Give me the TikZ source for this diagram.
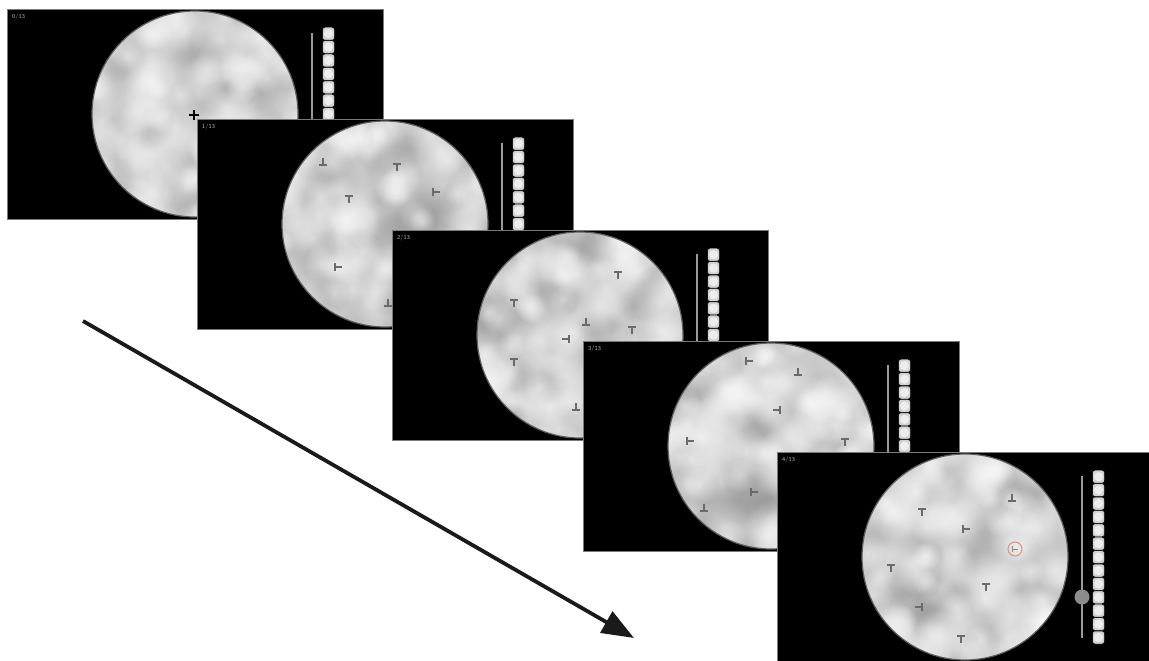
\documentclass[tikz,border=0pt]{standalone}
\usetikzlibrary{arrows.meta,fadings}
\tikzfading[name=blobfade, inner color=transparent!0, outer color=transparent!100]
\definecolor{cloudbase}{HTML}{CACACA}
\definecolor{clouddark}{HTML}{959595}
\definecolor{rimcol}{HTML}{5E5E5E}
\definecolor{markcol}{HTML}{6A6A6A}
\definecolor{panelborder}{HTML}{7A7A7A}
\definecolor{slidercol}{HTML}{9A9A9A}
\definecolor{knobcol}{HTML}{8C8C8C}
\definecolor{boxcol}{HTML}{D2D2D2}
\definecolor{dotcol}{HTML}{EDEDED}
\definecolor{labelcol}{HTML}{BDBDBD}
\definecolor{targetcol}{HTML}{D99378}
\definecolor{arrowcol}{HTML}{1A1A1A}
\tikzset{
  panelfill/.style={fill=black, draw=panelborder, line width=0.8pt},
  tm/.style={draw=markcol, line width=1.6pt},
  slider/.style={draw=slidercol, line width=2pt},
  boxstyle/.style={fill=boxcol, draw=black, line width=0.5pt, rounded corners=2.5pt},
  panellabel/.style={text=labelcol, font=\sffamily\fontsize{6}{6}\selectfont, anchor=west, inner sep=0pt},
  timearrow/.style={draw=arrowcol, line width=3.8pt, -{Triangle[length=32pt,width=24pt]}},
}
% T-shaped marks in pixel coordinates (y down)
\newcommand\mT[2]{\draw[tm] (#1-4,#2-3) -- (#1+4,#2-3) (#1,#2-3) -- (#1,#2+4);}
\newcommand\mB[2]{\draw[tm] (#1-4,#2+3) -- (#1+4,#2+3) (#1,#2+3) -- (#1,#2-4);}
\newcommand\mL[2]{\draw[tm] (#1-3,#2-4) -- (#1-3,#2+4) (#1-3,#2) -- (#1+4,#2);}
\newcommand\mR[2]{\draw[tm] (#1+3,#2-4) -- (#1+3,#2+4) (#1+3,#2) -- (#1-4,#2);}
\newcommand\searchpanel[3]{%
\begin{scope}[shift={(#1,#2)}]
  \path[panelfill] (0,0) rectangle (376,210);
  \begin{scope}
    \clip (188,105) circle (103);
    \fill[cloudbase] (84,1) rectangle (292,209);
    \pgfmathsetseed{#3+11}
    \foreach \i in {1,...,70}{
      \pgfmathsetmacro\bx{188+rand*108}
      \pgfmathsetmacro\by{105+rand*108}
      \pgfmathsetmacro\br{12+rnd*20}
      \fill[clouddark, opacity=0.38, path fading=blobfade] (\bx,\by) circle (\br);
    }
    \foreach \i in {1,...,110}{
      \pgfmathsetmacro\bx{188+rand*108}
      \pgfmathsetmacro\by{105+rand*108}
      \pgfmathsetmacro\br{11+rnd*20}
      \fill[white, opacity=0.42, path fading=blobfade] (\bx,\by) circle (\br);
    }
  \end{scope}
  \draw[draw=rimcol, line width=1.2pt] (188,105) circle (103);
  \draw[slider] (305,24) -- (305,186);
  \foreach \k in {0,...,12}{
    \pgfmathsetmacro\cy{18+13.4*\k+6.7}
    \path[boxstyle] (315.5,\cy-6.5) rectangle (327.5,\cy+6.5);
    \fill[dotcol] (321.5,\cy) circle (4.6);
  }
  \node[panellabel] (lab#3) at (5,8) {#3/13};
\end{scope}}
\begin{document}
\begin{tikzpicture}[x=1pt,y=-1pt]
\useasboundingbox (0,0) rectangle (1149,661);
\clip (0,0) rectangle (1149,661);
\fill[white] (0,0) rectangle (1149,661);
% panel 0
\searchpanel{7}{9}{0}
\draw[black, line width=2pt] (189,115) -- (199,115) (194,110) -- (194,120);
% panel 1
\searchpanel{197}{119}{1}
\mB{323}{162}
\mT{397}{167}
\mL{436}{192}
\mT{349}{199}
\mL{338}{267}
\mB{388}{303}
% panel 2
\searchpanel{392}{230}{2}
\mT{618}{275}
\mT{514}{303}
\mB{586}{322}
\mT{632}{330}
\mR{566}{339}
\mT{514}{362}
\mB{576}{407}
% panel 3
\searchpanel{583}{341}{3}
\mL{749}{361}
\mB{798}{372}
\mR{777}{410}
\mL{690}{441}
\mT{845}{442}
\mL{754}{492}
\mB{704}{508}
% panel 4
\searchpanel{777}{452}{4}
\mB{1012}{498}
\mT{922}{512}
\mL{966}{529}
\mT{891}{568}
\mT{986}{587}
\mR{919}{607}
\mT{961}{639}
\fill[white, opacity=0.35, path fading=blobfade] (1015,549) circle (14);
\draw[draw=targetcol, line width=1pt] (1015,549) circle (7);
\draw[draw=markcol!80, line width=1pt] (1012,546) -- (1012,552) (1012,549) -- (1018,549);
\fill[knobcol] (1082,597) circle (7.5);
% time arrow
\coordinate (tstart) at (83,321);
\coordinate (tend) at (634,638);
\draw[timearrow] (tstart) -- (tend);
\end{tikzpicture}
\end{document}
